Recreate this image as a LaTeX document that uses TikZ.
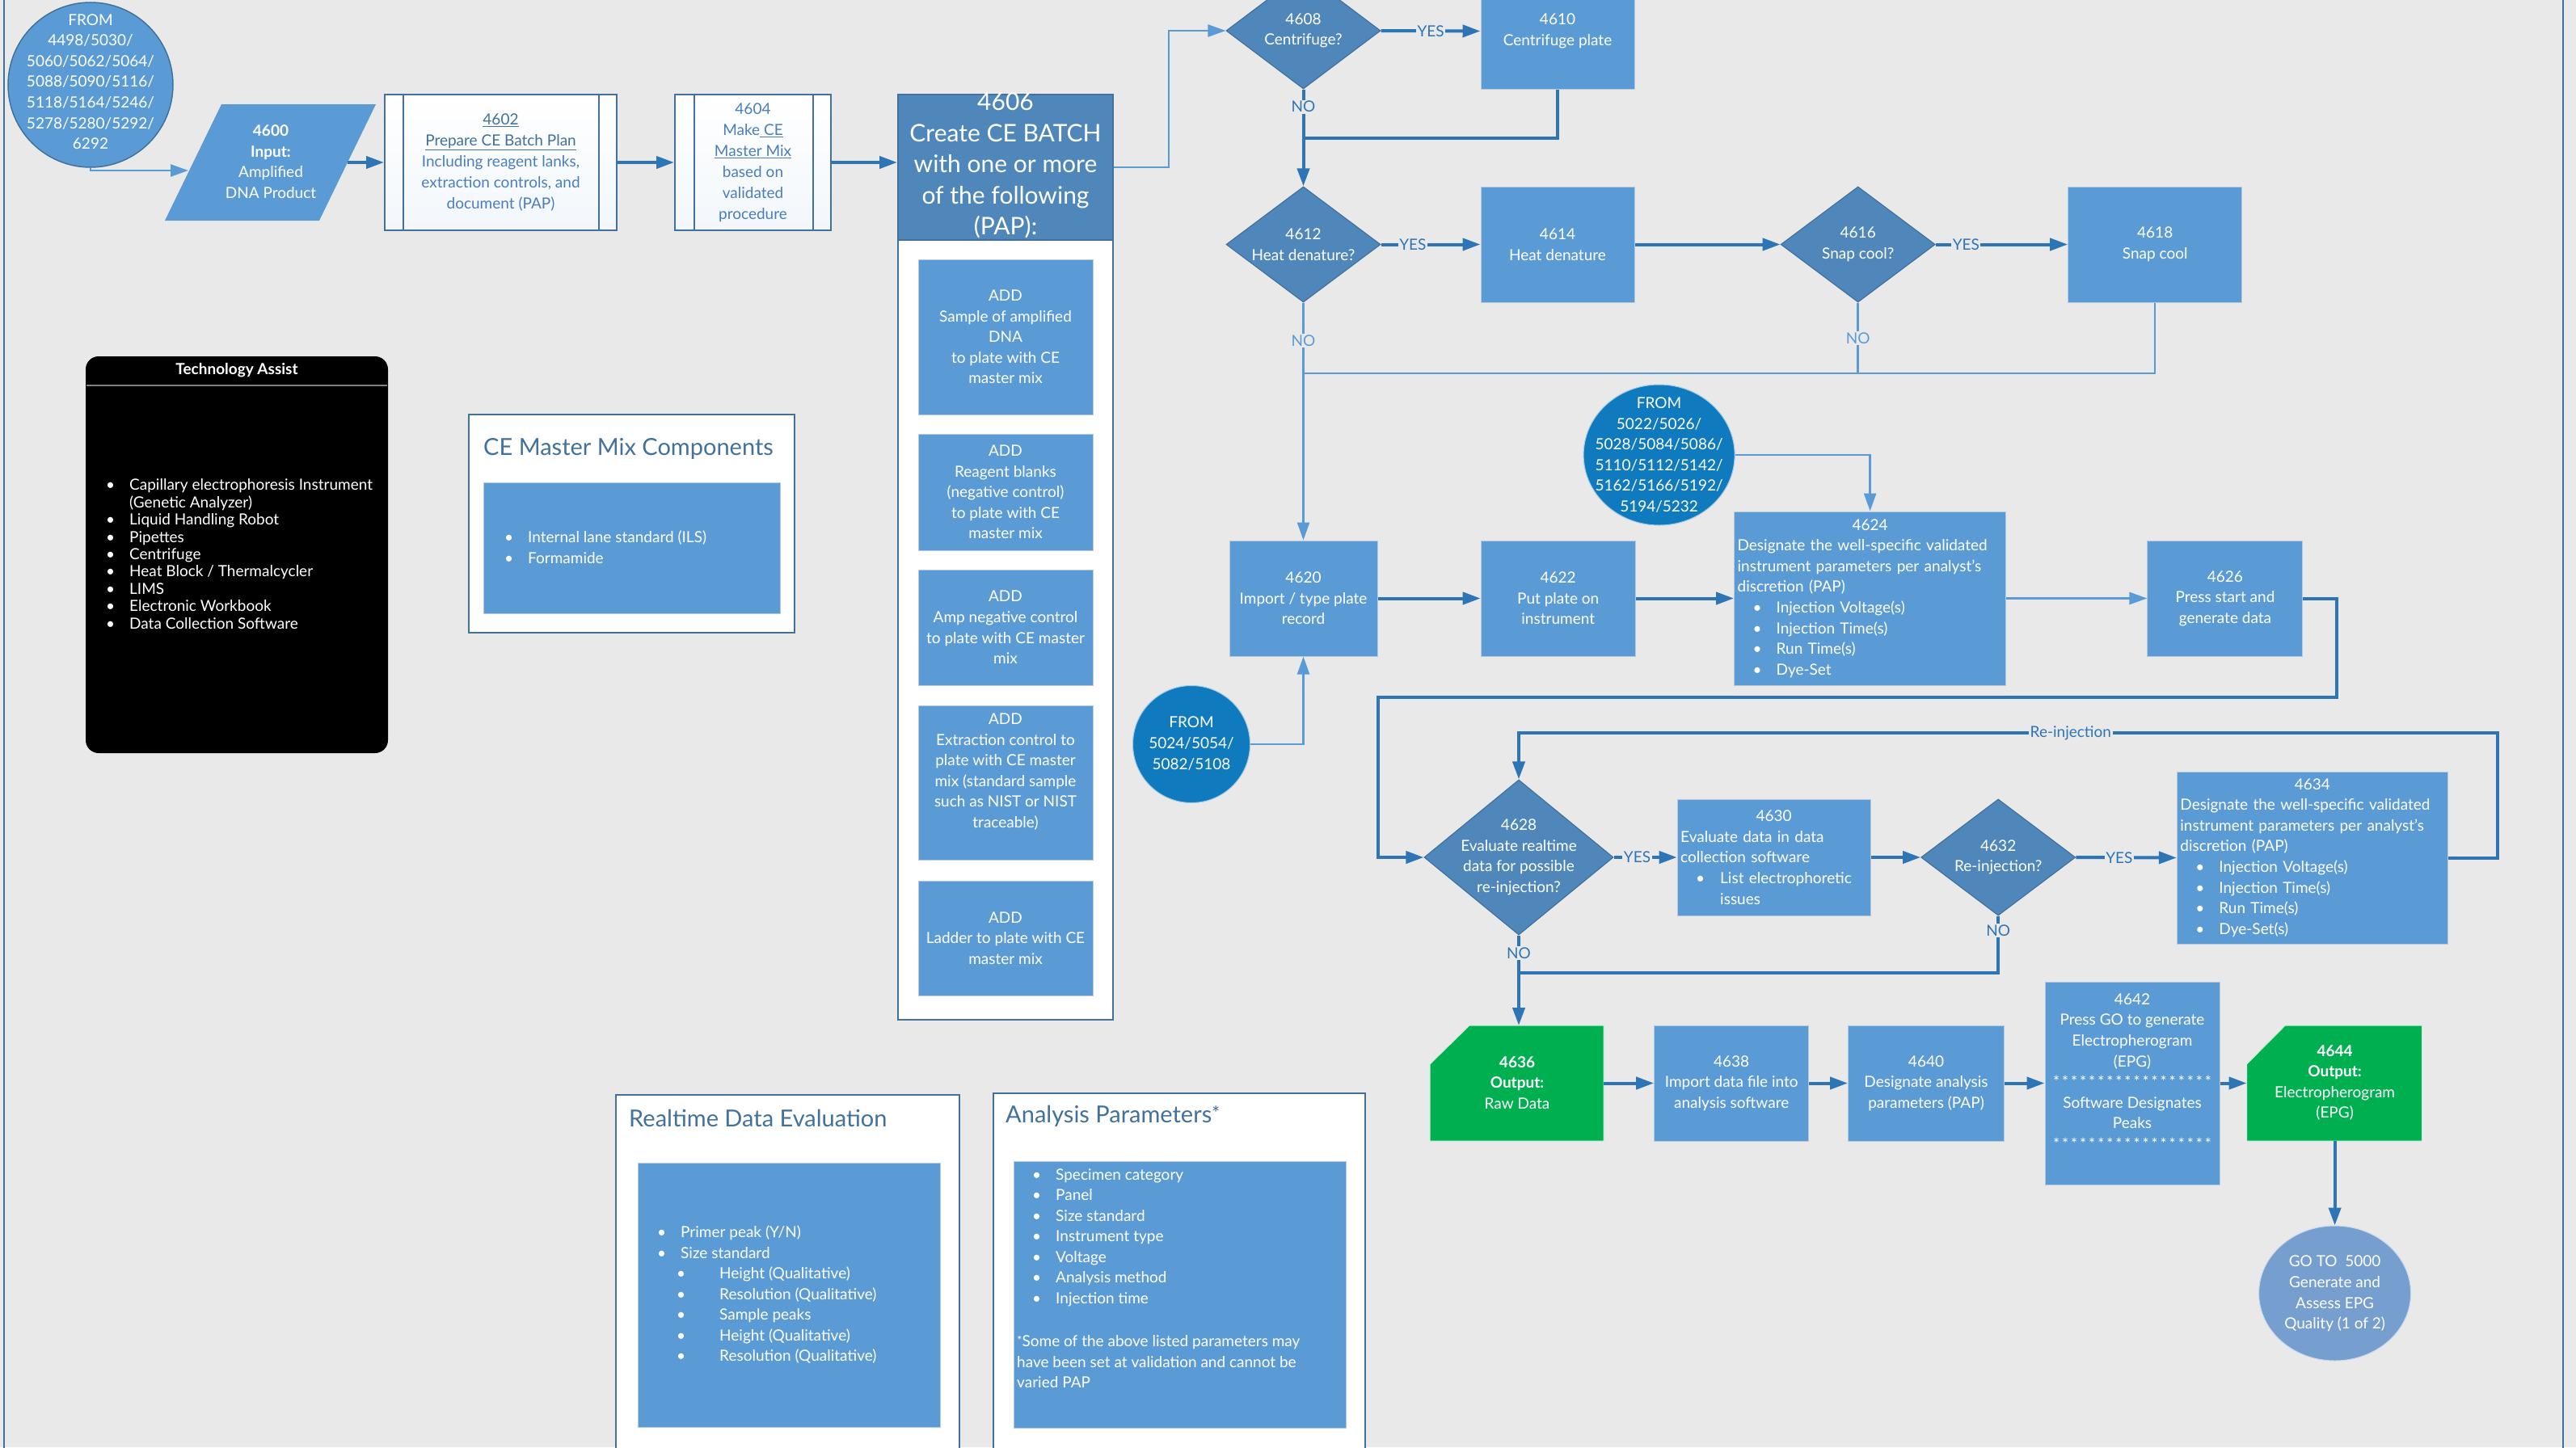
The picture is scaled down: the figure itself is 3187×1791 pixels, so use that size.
\documentclass[tikz,border=0pt]{standalone}
\usepackage{fontspec}
\setmainfont{Lato}
\usetikzlibrary{arrows.meta,shapes.geometric,calc}

\definecolor{bg}{HTML}{E9E9E9}
\definecolor{boxblue}{HTML}{5B9BD5}
\definecolor{boxedge}{HTML}{B7C9DD}
\definecolor{decblue}{HTML}{4F87BA}
\definecolor{decedge}{HTML}{41719C}
\definecolor{darkline}{HTML}{2E75B6}
\definecolor{lightline}{HTML}{5B9BD5}
\definecolor{frameblue}{HTML}{41719C}
\definecolor{outgreen}{HTML}{00B050}
\definecolor{fromblue}{HTML}{0F7ABE}
\definecolor{gotoblue}{HTML}{769FCF}
\definecolor{plantext}{HTML}{4A7EBB}

\newcommand\setfs[2]{\fontsize{#1}{#2}\selectfont}
\newcommand\bul[1]{\makebox[#1][l]{\textbullet}}
\newcommand\starrow{\hbox to 196pt{*\hfil*\hfil*\hfil*\hfil*\hfil*\hfil*\hfil*\hfil*\hfil*\hfil*\hfil*\hfil*\hfil*\hfil*\hfil*\hfil*\hfil*}}

\begin{document}
\begin{tikzpicture}[x=1pt, y=-1pt,
  proc/.style={rectangle, fill=boxblue, draw=boxedge, line width=1pt, text=white, align=center, inner sep=3pt, font=\setfs{19}{25.6}},
  dec/.style={diamond, fill=decblue, draw=decedge, line width=1.2pt, inner sep=0pt},
  lbl/.style={text=white, align=center, inner sep=0pt, font=\setfs{19}{25.6}},
  darr/.style={draw=darkline, line width=4pt, -{Triangle[length=22pt,width=15pt]}},
  larr/.style={draw=lightline, line width=2.5pt, -{Triangle[length=22pt,width=15pt]}},
  dline/.style={draw=darkline, line width=4pt},
  lline/.style={draw=lightline, line width=2.5pt},
  yn/.style={fill=bg, text=darkline, inner sep=1.5pt, font=\setfs{19}{22}},
  ynl/.style={yn, text=lightline},
  predef/.style={rectangle, top color=white, bottom color=white!92!boxblue, draw=frameblue, line width=2pt, align=center, font=\setfs{19}{25.9}, text=plantext},
  panel/.style={rectangle, fill=white, draw=frameblue, line width=2.5pt},
  innerbox/.style={rectangle, fill=boxblue, draw=boxedge, line width=1pt},
  ptitle/.style={anchor=west, text=frameblue, inner sep=0pt, font=\setfs{29}{33}},
  plist/.style={anchor=west, text=white, align=left, inner sep=0pt, font=\setfs{19}{25.5}},
  green/.style={fill=outgreen, draw=white!80!outgreen, line width=1pt},
]
\useasboundingbox (0,0) rectangle (3187,1791);
\fill[bg] (0,0) rectangle (3187,1791);

% page frame edges
\draw[frameblue, line width=2.5pt] (5,-10) -- (5,1800);
\draw[frameblue, line width=2.5pt] (3171,-10) -- (3171,1800);

% ---------- start of the run ----------
\node[circle, fill=boxblue, draw=decedge, line width=1.5pt, minimum size=204, inner sep=0pt] (c1) at (112,105) {};
\node[lbl] (c1t) at (112,101) {FROM\\4498/5030/\\5060/5062/5064/\\5088/5090/5116/\\5118/5164/5246/\\5278/5280/5292/\\6292};

\fill[boxblue] (274,129) coordinate (p1) -- (465,129) coordinate (p2) -- (395,273) coordinate (p3) -- (204,273) coordinate (p4) -- cycle;
\coordinate (p4600in) at (233,211);
\coordinate (p4600out) at (430,201);
\node[lbl] (t4600) at (335,200) {\bfseries 4600\\\bfseries Input:\\Amplified\\DNA Product};

\node[predef, minimum width=287, minimum height=168] (b4602) at (619.5,201)
  {\textcolor{frameblue}{\underline{4602}}\\\textcolor{frameblue}{\underline{Prepare CE Batch Plan}}\\Including reagent lanks,\\extraction controls, and\\document (PAP)};
\draw[frameblue, line width=2pt] ($(b4602.north west)+(24,0)$) -- ($(b4602.south west)+(24,0)$);
\draw[frameblue, line width=2pt] ($(b4602.north east)+(-23,0)$) -- ($(b4602.south east)+(-23,0)$);

\node[predef, minimum width=193, minimum height=168] (b4604) at (931.5,201)
  {4604\\Make\underline{ CE}\\\underline{Master Mix}\\based on\\validated\\procedure};
\draw[frameblue, line width=2pt] ($(b4604.north west)+(25,0)$) -- ($(b4604.south west)+(25,0)$);
\draw[frameblue, line width=2pt] ($(b4604.north east)+(-23,0)$) -- ($(b4604.south east)+(-23,0)$);

% ---------- batch container ----------
\node[rectangle, fill=white, draw=frameblue, line width=2.5pt, minimum width=266, minimum height=1145] (k4606) at (1244,689.5) {};
\node[rectangle, fill=decblue, draw=frameblue, line width=2pt, minimum width=266, minimum height=180] (h4606) at (1244,207) {};
\node[lbl, font=\setfs{30}{38.5}] (t4606) at (1244,205) {4606\\Create CE BATCH\\with one or more\\of the following\\(PAP):};

\node[proc, minimum width=216, minimum height=192] (a1) at (1244,417) {ADD\\Sample of amplified\\DNA\\to plate with CE\\master mix};
\node[proc, minimum width=216, minimum height=144] (a2) at (1244,609) {ADD\\Reagent blanks\\(negative control)\\to plate with CE\\master mix};
\node[proc, minimum width=216, minimum height=143] (a3) at (1244,776.5) {ADD\\Amp negative control\\to plate with CE master\\mix};
\node[proc, minimum width=216, minimum height=191] (a4) at (1244,968.5) {};
\node[lbl] (a4t) at (1244,955) {ADD\\Extraction control to\\plate with CE master\\mix (standard sample\\such as NIST or NIST\\traceable)};
\node[proc, minimum width=216, minimum height=142] (a5) at (1244,1161) {ADD\\Ladder to plate with CE\\master mix};

% ---------- plate preparation ----------
\node[dec, minimum width=191, minimum height=144] (d4608) at (1612.5,38) {};
\node[lbl] (t4608) at (d4608.center) {4608\\Centrifuge?};
\node[proc, minimum width=190, minimum height=143] (b4610) at (1927,38.5) {4610\\Centrifuge plate};

\node[dec, minimum width=191, minimum height=143] (d4612) at (1612.5,302.5) {};
\node[lbl] (t4612) at (d4612.center) {4612\\Heat denature?};
\node[proc, minimum width=190, minimum height=143] (b4614) at (1927,302.5) {4614\\Heat denature};
\node[dec, minimum width=191, minimum height=143] (d4616) at (2298.7,302.5) {};
\node[lbl] (t4616) at (d4616.center) {4616\\Snap cool?};
\node[proc, minimum width=215, minimum height=143] (b4618) at (2666.2,302.5) {4618\\Snap cool};

\node[proc, minimum width=183, minimum height=143] (b4620) at (1612.5,740.5) {4620\\Import / type plate\\record};
\node[proc, minimum width=191, minimum height=143] (b4622) at (1927.7,740.5) {4622\\Put plate on\\instrument};
\node[proc, minimum width=336, minimum height=215, text width=328, align=left, inner sep=4pt] (b4624) at (2313.6,740.5)
  {\makebox[\linewidth]{4624}\\Designate the well-specific validated\\instrument parameters per analyst's\\discretion (PAP)\\
   \hspace*{19pt}\bul{29pt}Injection Voltage(s)\\\hspace*{19pt}\bul{29pt}Injection Time(s)\\\hspace*{19pt}\bul{29pt}Run Time(s)\\\hspace*{19pt}\bul{29pt}Dye-Set};
\node[proc, minimum width=192, minimum height=143] (b4626) at (2752.9,740.5) {4626\\Press start and\\generate data};

\node[ellipse, fill=fromblue, draw=white!60!fromblue, line width=1pt, minimum width=187, minimum height=174, inner sep=0pt] (c2) at (2052.6,563) {};
\node[lbl] (c2t) at (2052.6,563) {FROM\\5022/5026/\\5028/5084/5086/\\5110/5112/5142/\\5162/5166/5192/\\5194/5232};

\node[circle, fill=fromblue, draw=white!60!fromblue, line width=1pt, minimum size=145, inner sep=0pt] (c3) at (1474,921) {};
\node[lbl] (c3t) at (1474,920) {FROM\\5024/5054/\\5082/5108};

% ---------- evaluation ----------
\node[dec, minimum width=234, minimum height=192] (d4628) at (1879,1061) {};
\node[lbl] (t4628) at (d4628.center) {4628\\Evaluate realtime\\data for possible\\re-injection?};
\node[proc, minimum width=239, minimum height=144, text width=231, align=left, inner sep=4pt] (b4630) at (2194.7,1061)
  {\makebox[\linewidth]{4630}\\Evaluate data in data\\collection software\\\hspace*{19pt}\bul{30pt}List electrophoretic\\\hspace*{49pt}issues};
\node[dec, minimum width=191, minimum height=144] (d4632) at (2472.2,1061) {};
\node[lbl] (t4632) at (d4632.center) {4632\\Re-injection?};
\node[proc, minimum width=335, minimum height=213, text width=327, align=left, inner sep=4pt] (b4634) at (2860.9,1061.5)
  {\makebox[\linewidth]{4634}\\Designate the well-specific validated\\instrument parameters per analyst's\\discretion (PAP)\\
   \hspace*{19pt}\bul{29pt}Injection Voltage(s)\\\hspace*{19pt}\bul{29pt}Injection Time(s)\\\hspace*{19pt}\bul{29pt}Run Time(s)\\\hspace*{19pt}\bul{29pt}Dye-Set(s)};

% ---------- outputs ----------
\draw[green] (1769,1317) coordinate (g36a) -- (1818,1269) coordinate (g36b) -- (1984,1269) coordinate (g36c) -- (1984,1412) coordinate (g36d) -- (1769,1412) coordinate (g36e) -- cycle;
\coordinate (g36out) at (1984,1340.5);
\node[lbl] (t4636) at (1877,1340) {\bfseries 4636\\\bfseries Output:\\Raw Data};
\node[proc, minimum width=191, minimum height=143] (b4638) at (2142.2,1340.5) {4638\\Import data file into\\analysis software};
\node[proc, minimum width=193, minimum height=143] (b4640) at (2383,1340.5) {4640\\Designate analysis\\parameters (PAP)};
\node[proc, minimum width=216, minimum height=251] (b4642) at (2638,1340.5) {};
\node[lbl] (t4642) at (2638,1326) {4642\\Press GO to generate\\Electropherogram\\(EPG)\\\starrow\\Software Designates\\Peaks\\\starrow};
\draw[green] (2779.6,1317) coordinate (g44a) -- (2827.2,1269) coordinate (g44b) -- (2996.6,1269) coordinate (g44c) -- (2996.6,1412) coordinate (g44d) -- (2779.6,1412) coordinate (g44e) -- cycle;
\coordinate (g44in) at (2779.6,1340.5);
\coordinate (g44out) at (2888.6,1412);
\node[lbl] (t4644) at (2888.6,1340) {\bfseries 4644\\\bfseries Output:\\Electropherogram\\(EPG)};

\node[ellipse, fill=gotoblue, draw=white!60!gotoblue, line width=1pt, minimum width=188, minimum height=167, inner sep=0pt] (c4) at (2888.6,1600.5) {};
\node[lbl] (c4t) at (2888.6,1601) {GO TO\ \ 5000\\Generate and\\Assess EPG\\Quality (1 of 2)};

% ---------- connectors ----------
\coordinate (j1) at (1446,38);
\coordinate (j2) at (1612.5,171);
\coordinate (j3) at (1612.5,462);
\coordinate (j4) at (2890.6,863);
\coordinate (j5) at (1705,863);
\coordinate (j6) at (3089.7,907);
\coordinate (j7) at (1879,1204);

\draw[larr] (c1.south) |- (p4600in);
\draw[darr] (p4600out) -- (b4602.west);
\draw[darr] (b4602.east) -- (b4604.west);
\draw[darr] (b4604.east) -- (b4604.east -| h4606.west);
\draw[larr] (h4606.east) -| (j1) -- (d4608.west);

\draw[darr] (d4608.east) -- node[yn, pos=0.5] (y1) {YES} (b4610.west);
\draw[darr] (d4608.south) -- node[yn, pos=0.18] (n1) {NO} (d4612.north);
\draw[dline] (b4610.south) |- (j2);
\draw[darr] (d4612.east) -- node[yn, pos=0.32] (y2) {YES} (b4614.west);
\draw[darr] (b4614.east) -- (d4616.west);
\draw[darr] (d4616.east) -- node[yn, pos=0.23] (y3) {YES} (b4618.west);

\draw[larr] (d4612.south) -- node[ynl, pos=0.16] (n2) {NO} (b4620.north);
\draw[lline] (d4616.south) -- node[ynl, pos=0.5] (n3) {NO} (d4616.south |- j3);
\draw[lline] (b4618.south) |- (j3);

\draw[darr] (b4620.east) -- (b4622.west);
\draw[darr] (b4622.east) -- (b4624.west);
\draw[larr] (c2.east) -| (b4624.north);
\draw[larr] (b4624.east) -- (b4626.west);
\draw[larr] (c3.east) -| (b4620.south);

\draw[darr] (b4626.east) -| (j4) -- (j5) |- (d4628.west);
\draw[darr] (d4628.east) -- node[yn, pos=0.37] (y4) {YES} (b4630.west);
\draw[darr] (b4630.east) -- (d4632.west);
\draw[darr] (d4632.east) -- node[yn, pos=0.43] (y5) {YES} (b4634.west);
\draw[darr] (b4634.east) -| (j6) -| node[yn, pos=0.218] (r1) {Re-injection} (d4628.north);

\draw[darr] (d4628.south) -- node[yn, pos=0.2] (n4) {NO} (d4628.south |- g36b);
\draw[dline] (d4632.south) |- node[yn, pos=0.13] (n5) {NO} (j7);

\draw[darr] (g36out) -- (b4638.west);
\draw[darr] (b4638.east) -- (b4640.west);
\draw[darr] (b4640.east) -- (b4642.west);
\draw[darr] (b4642.east) -- (g44in);
\draw[darr] (g44out) -- (c4.north);

% ---------- side panels ----------
\node[rectangle, rounded corners=16pt, fill=black, minimum width=374, minimum height=491] (ta) at (293,686.5) {};
\draw[gray, line width=2pt] (107,477) -- (479,477);
\node[text=white, inner sep=0pt, font=\setfs{19}{22}\bfseries] (tah) at (293,458) {Technology Assist};
\node[plist, font=\setfs{19}{21.4}] (tal) at (131,685.5)
  {\bul{29pt}Capillary electrophoresis Instrument\\\hspace*{29pt}(Genetic Analyzer)\\\bul{29pt}Liquid Handling Robot\\\bul{29pt}Pipettes\\\bul{29pt}Centrifuge\\\bul{29pt}Heat Block / Thermalcycler\\\bul{29pt}LIMS\\\bul{29pt}Electronic Workbook\\\bul{29pt}Data Collection Software};

\node[panel, minimum width=403, minimum height=270] (mm) at (781.5,648) {};
\node[ptitle] (mmt) at (598,555) {CE Master Mix Components};
\node[innerbox, minimum width=367, minimum height=162] (mmi) at (781.5,678) {};
\node[plist] (mml) at (624,677) {\bul{29pt}Internal lane standard (ILS)\\\bul{29pt}Formamide};

\node[panel, minimum width=425, minimum height=455] (rt) at (974.5,1582.5) {};
\node[ptitle] (rtt) at (778,1384) {Realtime Data Evaluation};
\node[innerbox, minimum width=374, minimum height=327] (rti) at (976,1602.5) {};
\node[plist] (rtl) at (813,1602.5)
  {\bul{29pt}Primer peak (Y/N)\\\bul{29pt}Size standard\\\hspace*{24pt}\bul{53pt}Height (Qualitative)\\\hspace*{24pt}\bul{53pt}Resolution (Qualitative)\\\hspace*{24pt}\bul{53pt}Sample peaks\\\hspace*{24pt}\bul{53pt}Height (Qualitative)\\\hspace*{24pt}\bul{53pt}Resolution (Qualitative)};

\node[panel, minimum width=460, minimum height=457] (ap) at (1459,1581.5) {};
\node[ptitle] (apt) at (1244,1381) {Analysis Parameters\raisebox{3pt}{\setfs{24}{24}*}};
\node[innerbox, minimum width=411, minimum height=330] (api) at (1459.5,1602) {};
\node[plist] (apl) at (1277,1531.5)
  {\bul{29pt}Specimen category\\\bul{29pt}Panel\\\bul{29pt}Size standard\\\bul{29pt}Instrument type\\\bul{29pt}Voltage\\\bul{29pt}Analysis method\\\bul{29pt}Injection time};
\node[plist] (apf) at (1258,1685.5)
  {\raisebox{2pt}{\setfs{15}{15}*}Some of the above listed parameters may\\have been set at validation and cannot be\\varied PAP};
\end{tikzpicture}
\end{document}
